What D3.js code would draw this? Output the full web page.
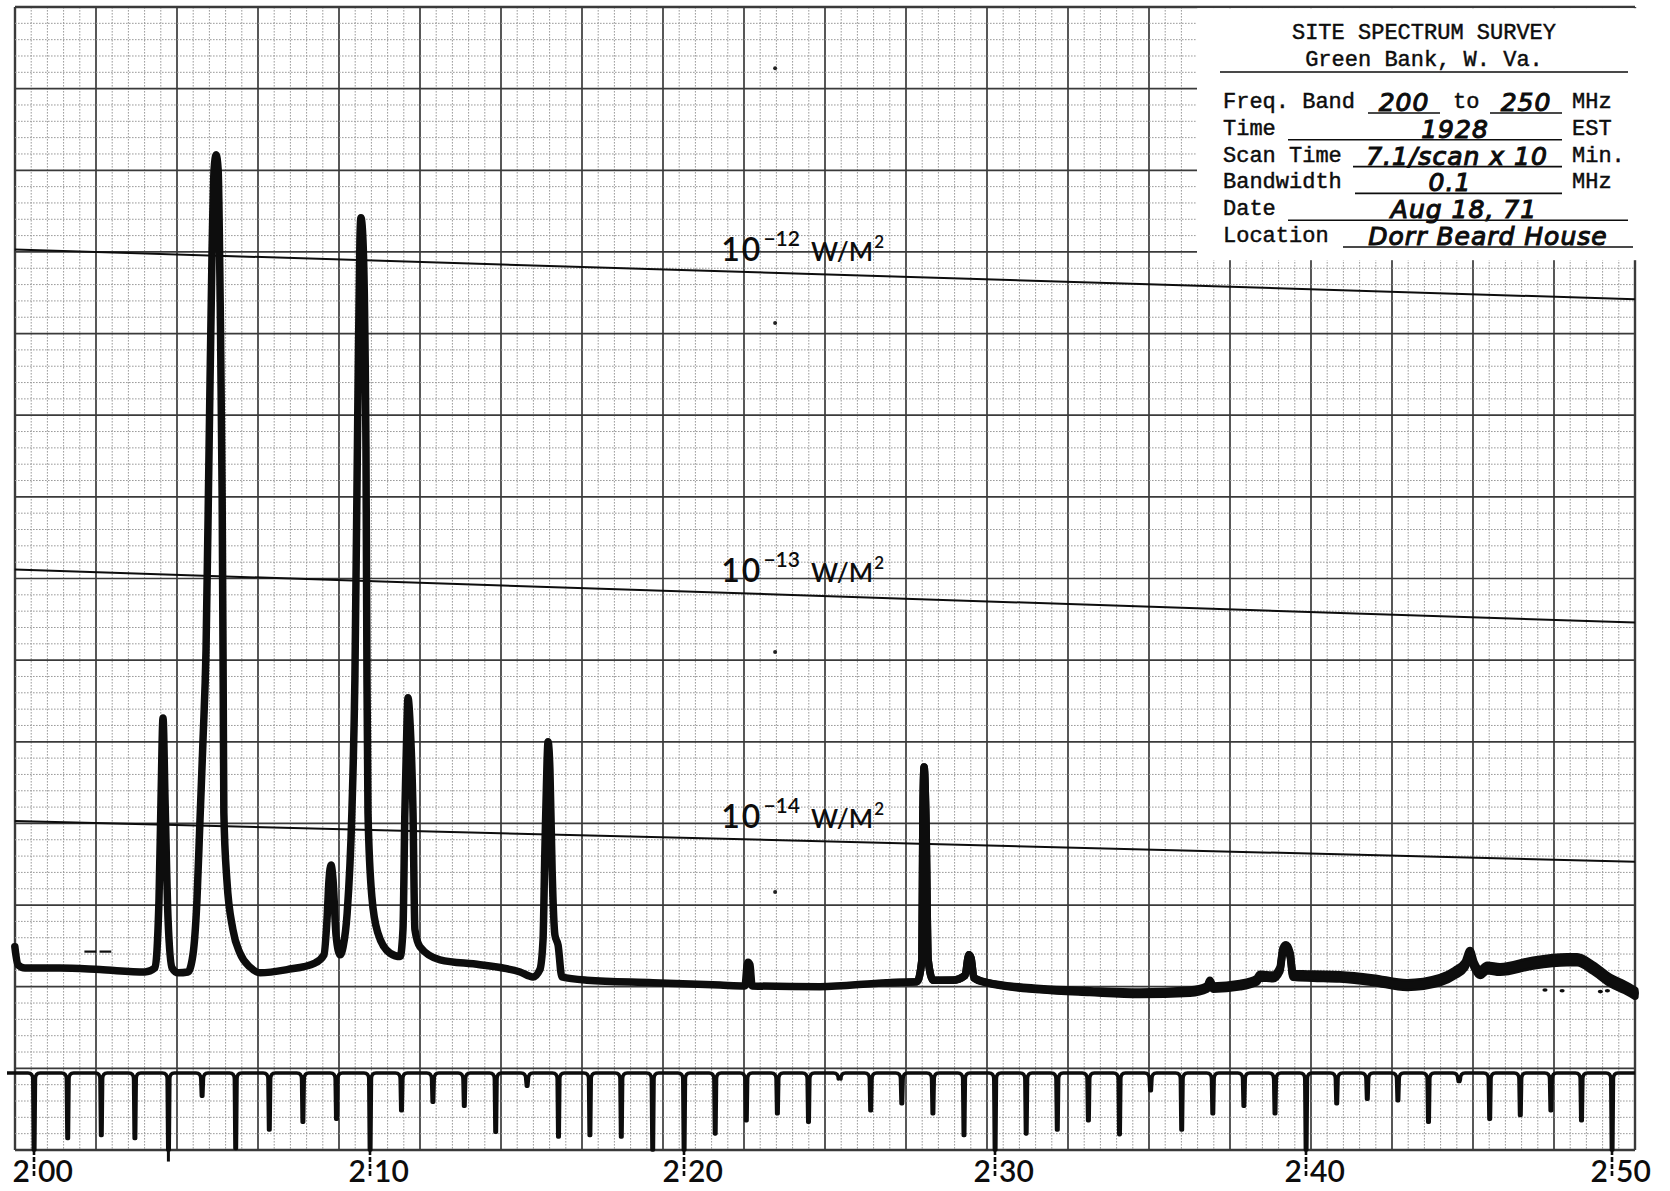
<!DOCTYPE html>
<html>
<head>
<meta charset="utf-8">
<script src="https://cdn.jsdelivr.net/npm/d3@7"></script>
<style>
  html, body { margin: 0; background: #fff; }
  svg { display: block; }
</style>
</head>
<body>
<svg id="chart"></svg>
<script>
// 10 MHz calibration marks on the sweep strip
const FREQ_TICKS = [200, 210, 220, 230, 240, 250];

// recorded trace: frequency (MHz) and pen level (chart divisions above the bottom edge)
const traceFreq = [
  199.43, 199.52, 199.73, 200.77, 201.96, 203.30, 203.60, 203.72, 203.78, 203.84,
  203.90, 203.99, 204.11, 204.29, 204.58, 204.73, 204.85, 204.94, 205.03, 205.12,
  205.21, 205.30, 205.36, 205.42, 205.48, 205.54, 205.60, 205.63, 205.65, 205.74,
  205.92, 206.13, 206.43, 206.73, 207.53, 208.36, 208.63, 208.72, 208.78, 208.84,
  208.90, 208.99, 209.11, 209.20, 209.32, 209.46, 209.55, 209.64, 209.70, 209.73,
  209.79, 209.88, 209.91, 209.94, 210.06, 210.25, 210.64, 210.96, 211.05, 211.11,
  211.18, 211.21, 211.27, 211.37, 211.43, 211.59, 212.23, 213.50, 214.78, 215.19,
  215.41, 215.51, 215.57, 215.64, 215.67, 215.73, 215.80, 215.89, 215.99, 216.11,
  216.91, 219.01, 221.16, 221.96, 222.03, 222.06, 222.12, 222.19, 224.37, 226.53,
  227.49, 227.65, 227.68, 227.72, 227.78, 227.85, 228.01, 228.65, 229.04, 229.13,
  229.16, 229.23, 229.32, 229.74, 231.45, 233.05, 234.66, 236.27, 236.82, 236.91,
  237.01, 237.88, 238.42, 238.52, 238.94, 239.16, 239.26, 239.36, 239.49, 239.58,
  240.23, 241.11, 242.19, 243.30, 244.38, 244.87, 245.20, 245.36, 245.49, 245.69,
  245.92, 246.34, 247.42, 248.53, 248.86, 249.38, 249.93, 250.42, 250.75
];
const traceLevel = [
  2.49, 2.27, 2.23, 2.23, 2.21, 2.18, 2.23, 3.06, 4.29, 5.29,
  4.29, 2.82, 2.23, 2.17, 2.18, 2.39, 3.06, 4.04, 5.02, 6.13,
  8.58, 11.03, 12.01, 12.19, 12.01, 10.42, 7.97, 5.76, 4.13, 3.31,
  2.70, 2.41, 2.24, 2.17, 2.21, 2.29, 2.39, 2.82, 3.31, 3.49,
  3.31, 2.63, 2.39, 2.49, 2.90, 4.13, 5.76, 9.19, 11.15, 11.42,
  11.15, 8.58, 5.76, 4.13, 3.10, 2.66, 2.41, 2.37, 2.70, 4.13,
  5.27, 5.54, 5.27, 4.13, 2.70, 2.49, 2.33, 2.27, 2.18, 2.12,
  2.21, 2.57, 3.68, 4.78, 5.00, 4.66, 3.43, 2.63, 2.51, 2.12,
  2.08, 2.05, 2.02, 2.01, 2.27, 2.30, 2.27, 2.01, 2.00, 2.05,
  2.06, 2.33, 4.04, 4.69, 4.04, 2.33, 2.08, 2.08, 2.14, 2.35,
  2.39, 2.35, 2.11, 2.05, 1.97, 1.94, 1.92, 1.94, 1.99, 2.06,
  1.99, 2.02, 2.08, 2.13, 2.12, 2.21, 2.45, 2.49, 2.39, 2.14,
  2.13, 2.12, 2.08, 2.02, 2.08, 2.17, 2.27, 2.41, 2.27, 2.17,
  2.23, 2.21, 2.29, 2.33, 2.33, 2.23, 2.08, 1.99, 1.92
];

// 1 MHz marker pips, 200..250 MHz, depth as a fraction of the strip
const markerDepth = [
  1.00, 0.85, 0.81, 0.85, 1.15, 0.30, 0.98, 0.74, 0.64, 0.60,
  1.00, 0.49, 0.38, 0.43, 0.77, 0.17, 0.83, 0.81, 0.83, 1.00,
  1.00, 0.79, 0.62, 0.53, 0.64, 0.06, 0.49, 0.40, 0.53, 0.81,
  1.00, 0.79, 0.74, 0.62, 0.80, 0.23, 0.74, 0.53, 0.43, 0.53,
  1.00, 0.40, 0.34, 0.36, 0.64, 0.11, 0.60, 0.55, 0.49, 0.62,
  1.00
];

// flux calibration lines (levels at both ends of the sweep)
const calExponent = [-12, -13, -14];
const calLevelStart = [11.03, 7.11, 4.03];
const calLevelEnd = [10.42, 6.46, 3.53];
const calFreq = [199.43, 250.75];
const calLabelFreq = 221.2;

// little reference dots printed down the middle of the sheet
const dotFreq = 222.93;
const dotLevels = [13.25, 10.13, 6.10, 3.16];

// stray pen marks
const penDashFreq = [[201.5, 201.85], [201.95, 202.3]];
const penDashLevel = 2.43;
const penDotFreq = [247.81, 248.37, 249.62, 249.85];
const penDotLevel = [1.96, 1.95, 1.94, 1.95];

// title block
const titleLines = ['SITE SPECTRUM SURVEY', 'Green Bank, W. Va.'];
const infoLabels = ['Freq. Band', 'Time', 'Scan Time', 'Bandwidth', 'Date', 'Location'];
const infoUnits = ['MHz', 'EST', 'Min.', 'MHz', '', ''];
const infoValues = ['200 | 250', '1928', '7.1/scan x 10', '0.1', 'Aug 18, 71', 'Dorr Beard House'];

const W = 1670, H = 1191;
const svg = d3.select('#chart').attr('width', W).attr('height', H);

// chart paper: 20 x 14 big squares, 5 small ones in each
const gx = d3.scaleLinear().domain([0, 100]).range([15, 1635]);
const gy = d3.scaleLinear().domain([0, 70]).range([7, 1150]);

// the sweep is not quite linear, so the frequency scale is pinned to the 10 MHz marks
const x = d3.scaleLinear().domain(FREQ_TICKS).range([34, 370, 684, 995, 1306, 1612]);
const y = d3.scaleLinear().domain([0, 14]).range([gy(70), gy(0)]);
const strip = d3.scaleLinear().domain([0, 1]).range([1073, gy(70)]);

const typeFont = '"Liberation Mono", "DejaVu Sans Mono", monospace';
const handFont = '"DejaVu Sans", sans-serif';
const printFont = 'Lato, "Open Sans", sans-serif';
const ink = '#0d0d0d';

// ---- grid
const grid = svg.append('g');
const isEdge = (d, n) => d === 0 || d === n;
grid.selectAll('.gv')
  .data(d3.range(0, 101))
  .join('line')
  .attr('x1', d => gx(d)).attr('x2', d => gx(d))
  .attr('y1', gy(0)).attr('y2', gy(70))
  .attr('stroke', d => d % 5 ? '#9a9a9a' : '#3a3a3a')
  .attr('stroke-width', d => isEdge(d, 100) ? 2.4 : d % 5 ? 1 : 1.7)
  .attr('stroke-dasharray', d => d % 5 ? '1.6,1.4' : null);
grid.selectAll('.gh')
  .data(d3.range(0, 71))
  .join('line')
  .attr('y1', d => gy(d)).attr('y2', d => gy(d))
  .attr('x1', gx(0)).attr('x2', gx(100))
  .attr('stroke', d => d % 5 ? '#9a9a9a' : '#3a3a3a')
  .attr('stroke-width', d => isEdge(d, 70) ? 2.4 : d % 5 ? 1 : 1.7)
  .attr('stroke-dasharray', d => d % 5 ? '1.6,1.4' : null);

// ---- title block
const box = svg.append('g');
box.append('rect')
  .attr('x', 1197).attr('y', gy(0) + 1.2)
  .attr('width', W - 1197).attr('height', 252)
  .attr('fill', '#fff');

const typed = sel => sel
  .attr('font-family', typeFont)
  .attr('font-size', 22)
  .attr('fill', ink)
  .attr('stroke', ink)
  .attr('stroke-width', 0.45);

box.selectAll('.title')
  .data(titleLines)
  .join('text')
  .attr('x', 1424)
  .attr('y', (d, i) => 39 + i * 27)
  .attr('text-anchor', 'middle')
  .call(typed)
  .text(d => d);
box.append('line')
  .attr('x1', 1220).attr('x2', 1628).attr('y1', 72).attr('y2', 72)
  .attr('stroke', ink).attr('stroke-width', 1.6);

const rowY = d3.scaleLinear().domain([0, 5]).range([108, 242]);
box.selectAll('.lab')
  .data(infoLabels)
  .join('text')
  .attr('x', 1223)
  .attr('y', (d, i) => rowY(i))
  .call(typed)
  .text(d => d);
box.selectAll('.unit')
  .data(infoUnits)
  .join('text')
  .attr('x', 1572)
  .attr('y', (d, i) => rowY(i))
  .call(typed)
  .text(d => d);
box.append('text')
  .attr('x', 1453).attr('y', rowY(0))
  .call(typed)
  .text('to');

// blanks to fill in: [x0, x1, centre of hand-written value]
const blanks = [
  [[1368, 1440, 1404], [1490, 1562, 1526]],
  [[1288, 1562, 1455]],
  [[1353, 1562, 1457]],
  [[1355, 1562, 1450]],
  [[1288, 1628, 1464]],
  [[1343, 1633, 1488]]
];
blanks.forEach((row, i) => {
  const vals = infoValues[i].split(' | ');
  row.forEach((b, j) => {
    box.append('line')
      .attr('x1', b[0]).attr('x2', b[1])
      .attr('y1', rowY(i) + 5).attr('y2', rowY(i) + 5)
      .attr('stroke', ink).attr('stroke-width', 1.6);
    box.append('text')
      .attr('x', b[2]).attr('y', rowY(i) + 3)
      .attr('text-anchor', 'middle')
      .attr('font-family', handFont)
      .attr('font-style', 'italic')
      .attr('font-size', 25)
      .attr('fill', ink)
      .attr('stroke', ink)
      .attr('stroke-width', 1.1)
      .attr('letter-spacing', 1)
      .text(vals[j]);
  });
});

// ---- calibration lines
const cal = svg.append('g');
const calY = (i, f) => {
  const t = (f - calFreq[0]) / (calFreq[1] - calFreq[0]);
  return y(calLevelStart[i] + t * (calLevelEnd[i] - calLevelStart[i]));
};
cal.selectAll('line')
  .data(calExponent)
  .join('line')
  .attr('x1', x(calFreq[0])).attr('x2', x(calFreq[1]))
  .attr('y1', (d, i) => y(calLevelStart[i]))
  .attr('y2', (d, i) => y(calLevelEnd[i]))
  .attr('stroke', ink).attr('stroke-width', 2);

const calLab = cal.selectAll('text')
  .data(calExponent)
  .join('text')
  .attr('x', x(calLabelFreq))
  .attr('y', (d, i) => calY(i, calLabelFreq) - 10)
  .attr('font-family', printFont)
  .attr('font-weight', 600)
  .attr('fill', ink);
calLab.append('tspan').attr('font-size', 32).attr('letter-spacing', 2).text('10');
calLab.append('tspan').attr('font-size', 21).attr('dy', -15).attr('dx', 1).text(d => '\u2212' + Math.abs(d));
calLab.append('tspan').attr('font-size', 26).attr('dy', 15).attr('dx', 11).text('W/M');
calLab.append('tspan').attr('font-size', 17).attr('dy', -13).attr('dx', 1).text('2');

// ---- reference dots and pen marks
svg.append('g').selectAll('circle')
  .data(dotLevels)
  .join('circle')
  .attr('cx', x(dotFreq)).attr('cy', d => y(d))
  .attr('r', 2).attr('fill', '#222');
svg.append('g').selectAll('line')
  .data(penDashFreq)
  .join('line')
  .attr('x1', d => x(d[0])).attr('x2', d => x(d[1]))
  .attr('y1', y(penDashLevel)).attr('y2', y(penDashLevel))
  .attr('stroke', ink).attr('stroke-width', 2.2);
svg.append('g').selectAll('ellipse')
  .data(penDotFreq)
  .join('ellipse')
  .attr('cx', d => x(d)).attr('cy', (d, i) => y(penDotLevel[i]))
  .attr('rx', 2.6).attr('ry', 1.8).attr('fill', ink);

// ---- spectrum trace
const traceData = traceFreq.map((f, i) => ({ f, l: traceLevel[i] }));
const line = d3.line()
  .x(d => x(d.f))
  .y(d => y(d.l))
  .curve(d3.curveMonotoneX);

// the ten overlaid scans spread wider toward the top of the band
const spread = d3.scaleLinear().domain([228, 236, 248]).range([0, 1.5, 3]).clamp(true);
const band = d3.area()
  .x(d => x(d.f))
  .y0(d => y(d.l) + spread(d.f))
  .y1(d => y(d.l) - spread(d.f))
  .curve(d3.curveMonotoneX);

svg.append('path')
  .attr('d', band(traceData.filter(d => d.f >= 226)))
  .attr('fill', ink)
  .attr('stroke', ink)
  .attr('stroke-width', 7.5)
  .attr('stroke-linejoin', 'round');

svg.append('path')
  .attr('d', line(traceData))
  .attr('fill', 'none')
  .attr('stroke', ink)
  .attr('stroke-width', 7.5)
  .attr('stroke-linejoin', 'round')
  .attr('stroke-linecap', 'round');

// ---- marker strip
const markers = markerDepth.map((d, i) => ({ f: 200 + i, d }));
const base = strip(0);
let sp = `M${gx(0) - 8},${base}`;
markers.forEach(m => {
  const mx = x(m.f);
  const yd = strip(Math.min(m.d, 1));
  sp += `L${mx - 6},${base}Q${mx - 1.2},${base} ${mx - 1.2},${base + 6}L${mx - 0.6},${yd}` +
        `L${mx + 0.8},${yd}L${mx + 1.4},${base + 6}Q${mx + 1.4},${base} ${mx + 6},${base}`;
});
sp += `L${gx(100)},${base}`;
svg.append('path')
  .attr('d', sp)
  .attr('fill', 'none')
  .attr('stroke', ink)
  .attr('stroke-width', 3.6)
  .attr('stroke-linejoin', 'round');

// pips that run past the strip edge
svg.append('g').selectAll('line')
  .data(markers.filter(m => m.d > 1))
  .join('line')
  .attr('x1', m => x(m.f)).attr('x2', m => x(m.f))
  .attr('y1', strip(1)).attr('y2', m => strip(m.d))
  .attr('stroke', ink).attr('stroke-width', 3);

// 10 MHz marks drop through the label
svg.append('g').selectAll('line')
  .data(FREQ_TICKS)
  .join('line')
  .attr('x1', d => x(d)).attr('x2', d => x(d))
  .attr('y1', strip(1)).attr('y2', strip(1.36))
  .attr('stroke', ink).attr('stroke-width', 2.6)
  .attr('stroke-dasharray', '5,2');

// ---- frequency labels, split around the mark
const labels = svg.append('g')
  .attr('font-family', printFont)
  .attr('font-size', 30)
  .attr('font-weight', 600)
  .attr('fill', ink);
labels.selectAll('.lh')
  .data(FREQ_TICKS)
  .join('text')
  .attr('x', d => x(d) - 4)
  .attr('y', 1182)
  .attr('text-anchor', 'end')
  .text(d => String(d)[0]);
labels.selectAll('.lt')
  .data(FREQ_TICKS)
  .join('text')
  .attr('x', d => x(d) + 4)
  .attr('y', 1182)
  .text(d => String(d).slice(1));
</script>
</body>
</html>
